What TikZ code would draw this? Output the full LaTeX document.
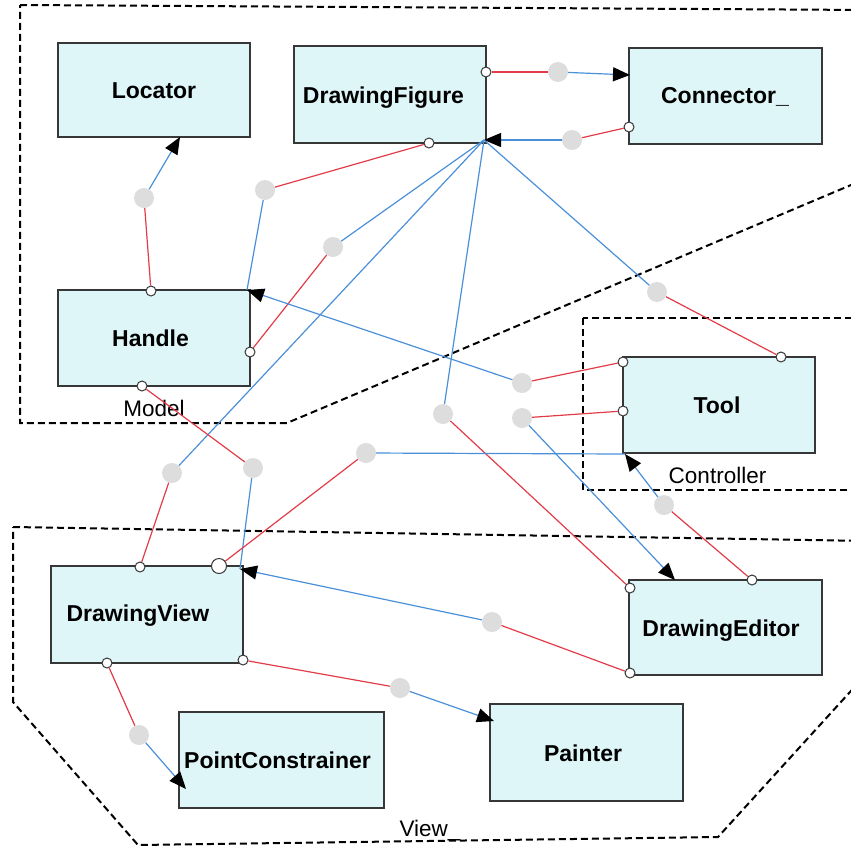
\documentclass[tikz,border=0pt]{standalone}
\usepackage{fontspec}
\setmainfont{Liberation Sans}
\usetikzlibrary{arrows.meta}
\definecolor{boxfill}{RGB}{222,246,247}
\definecolor{boxline}{RGB}{55,55,55}
\definecolor{linkred}{RGB}{226,60,72}
\definecolor{linkblue}{RGB}{74,144,217}
\definecolor{dotgray}{RGB}{221,221,221}
\begin{document}
\begin{tikzpicture}[x=1pt,y=-1pt,
  cls/.style={draw=boxline, line width=1.2pt, fill=boxfill, inner sep=0pt},
  clsname/.style={anchor=base, inner sep=0pt, font=\bfseries\fontsize{23}{28}\selectfont},
  region/.style={draw=black, line width=2pt, dash pattern=on 7pt off 4pt},
  regionname/.style={anchor=base, inner sep=0pt, font=\fontsize{22.5}{27}\selectfont},
  port/.style={circle, draw=boxline, fill=white, line width=1pt, minimum size=10pt, inner sep=0pt},
  bigport/.style={port, minimum size=15pt},
  mid/.style={circle, fill=dotgray, minimum size=20pt, inner sep=0pt},
  src/.style={draw=linkred, line width=1.2pt},
  dst/.style={draw=linkblue, line width=1.2pt},
  tip/.style={-{Triangle[length=17pt,width=14pt,fill=black,color=black]}}
]
\clip (0,0) rectangle (851,849);

% package outlines
\draw[region] (20,5) -- (870,10) -- (870,177) -- (287,423) -- (20,423) -- cycle;
\draw[region] (583,318) rectangle (870,490);
\draw[region] (13,527) -- (870,541) -- (870,670) -- (718,837) -- (138,845) -- (13,702) -- cycle;
\node[regionname] (model) at (154,416.7) {Model};
\node[regionname] (controller) at (717.5,483.3) {Controller};
\node[regionname] (viewpkg) at (430,836.7) {View\_};

% classes
\node[cls, minimum width=192pt, minimum height=94pt] (locator) at (154,90) {};
\node[cls, minimum width=192pt, minimum height=97pt] (figure) at (390,94.5) {};
\node[cls, minimum width=193pt, minimum height=96pt] (connector) at (725.5,96) {};
\node[cls, minimum width=192pt, minimum height=96pt] (handle) at (154,338) {};
\node[cls, minimum width=192pt, minimum height=96pt] (tool) at (719,405) {};
\node[cls, minimum width=192pt, minimum height=97pt] (view) at (147,614.5) {};
\node[cls, minimum width=193pt, minimum height=95pt] (editor) at (725.5,627.5) {};
\node[cls, minimum width=205pt, minimum height=96pt] (constrainer) at (281.5,760) {};
\node[cls, minimum width=193pt, minimum height=97pt] (painter) at (586.5,752.5) {};

\node[clsname] (locator-t) at (154,98) {Locator};
\node[clsname] (figure-t) at (383.5,103.3) {DrawingFigure};
\node[clsname] (connector-t) at (725,103.3) {Connector\_};
\node[clsname] (handle-t) at (150.5,346) {Handle};
\node[clsname] (tool-t) at (717,413.3) {Tool};
\node[clsname] (view-t) at (138,621.7) {DrawingView};
\node[clsname] (editor-t) at (721,636.7) {DrawingEditor};
\node[clsname] (constrainer-t) at (277.5,768) {PointConstrainer};
\node[clsname] (painter-t) at (583,761.7) {Painter};

% arrow targets on the classes
\coordinate (conIn) at (630,75);
\coordinate (figIn) at (484,140);
\coordinate (locIn) at (180,137);
\coordinate (hanIn) at (247,290);
\coordinate (toolIn) at (625,454);
\coordinate (viewIn) at (240,569);
\coordinate (edIn) at (675,580);
\coordinate (paintIn) at (494,721);
\coordinate (pcIn) at (186,789);

% link midpoints
\node[mid] (d1) at (558,72) {};
\node[mid] (d2) at (572,140) {};
\node[mid] (d3) at (144,198) {};
\node[mid] (d4) at (265,190) {};
\node[mid] (d5) at (333,247) {};
\node[mid] (d6) at (657,292) {};
\node[mid] (d7) at (522,383) {};
\node[mid] (d8) at (443,414) {};
\node[mid] (d9) at (522,418) {};
\node[mid] (d10) at (172,473) {};
\node[mid] (d11) at (253,468) {};
\node[mid] (d12) at (366,453) {};
\node[mid] (d13) at (664,505) {};
\node[mid] (d14) at (492,622) {};
\node[mid] (d15) at (400,688) {};
\node[mid] (d16) at (139,735) {};

% link sources
\node[port] (figR) at (486,72) {};
\node[port] (figB) at (429,143) {};
\node[port] (conL) at (629,127) {};
\node[port] (hanT) at (151,291) {};
\node[port] (hanR) at (250,352) {};
\node[port] (hanB) at (142,386) {};
\node[port] (toolL1) at (623,362) {};
\node[port] (toolL2) at (623,411) {};
\node[port] (toolT) at (781,357) {};
\node[port] (viewT) at (140,567) {};
\node[bigport] (viewTR) at (219,566) {};
\node[port] (viewBR) at (243,660) {};
\node[port] (viewB) at (107,663) {};
\node[port] (edL1) at (630,588) {};
\node[port] (edL2) at (630,673) {};
\node[port] (edT) at (752,580) {};

% links: source half in red, target half in blue
\draw[src] (figR) -- (d1);   \draw[dst, tip] (d1) -- (conIn);
\draw[src] (conL) -- (d2);   \draw[dst, tip] (d2) -- (figIn);
\draw[src] (hanT) -- (d3);   \draw[dst, tip] (d3) -- (locIn);
\draw[src] (figB) -- (d4);   \draw[dst] (d4) -- (hanIn);
\draw[src] (hanR) -- (d5);   \draw[dst] (d5) -- (figIn);
\draw[src] (toolT) -- (d6);  \draw[dst] (d6) -- (figIn);
\draw[src] (toolL1) -- (d7); \draw[dst, tip] (d7) -- (hanIn);
\draw[src] (edL1) -- (d8);   \draw[dst] (d8) -- (figIn);
\draw[src] (toolL2) -- (d9); \draw[dst, tip] (d9) -- (edIn);
\draw[src] (viewT) -- (d10); \draw[dst] (d10) -- (figIn);
\draw[src] (hanB) -- (d11);  \draw[dst] (d11) -- (viewIn);
\draw[src] (viewTR) -- (d12); \draw[dst] (d12) -- (toolIn);
\draw[src] (edT) -- (d13);   \draw[dst, tip] (d13) -- (toolIn);
\draw[src] (edL2) -- (d14);  \draw[dst, tip] (d14) -- (viewIn);
\draw[src] (viewBR) -- (d15); \draw[dst, tip] (d15) -- (paintIn);
\draw[src] (viewB) -- (d16); \draw[dst, tip] (d16) -- (pcIn);
\end{tikzpicture}
\end{document}
